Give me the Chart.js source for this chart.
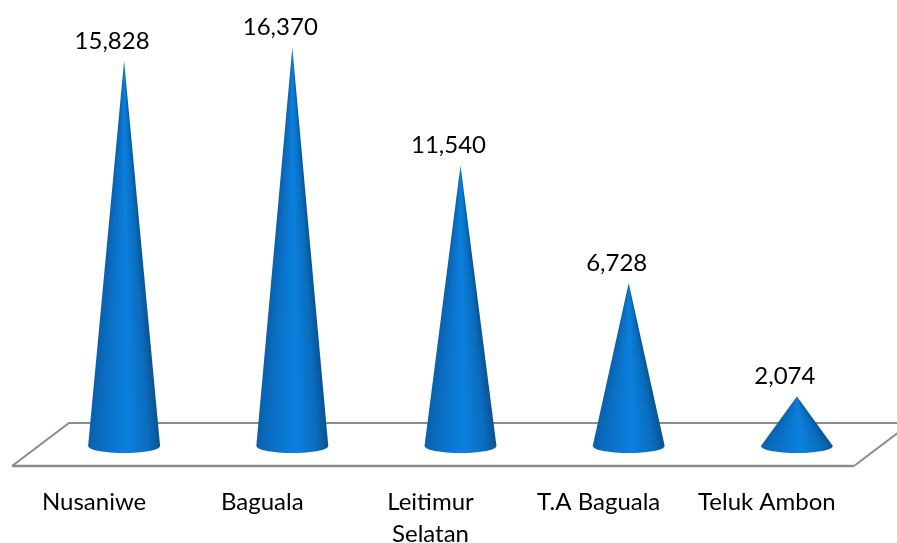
<!DOCTYPE html>
<html>
<head>
<meta charset="utf-8">
<title>Cone chart</title>
<script src="https://cdn.jsdelivr.net/npm/chart.js@4"></script>
<style>
  html, body { margin: 0; padding: 0; background: #fff; }
  canvas { display: block; }
</style>
</head>
<body>
<canvas id="chart" width="897" height="543"></canvas>
<script>
const districts = ['Nusaniwe', 'Baguala', ['Leitimur', 'Selatan'], 'T.A Baguala', 'Teluk Ambon'];
const values = [15828, 16370, 11540, 6728, 2074];

const FONT = 'Lato, "Open Sans", sans-serif';

// floor under the cones, placed relative to the plot area
const floorPlugin = {
  id: 'floor',
  beforeDatasetsDraw(chart) {
    const { ctx, chartArea: a } = chart;
    const front = a.bottom + 19;
    const back = a.bottom - 24;
    ctx.save();
    ctx.strokeStyle = '#8c8c8c';
    ctx.lineWidth = 2;
    ctx.beginPath();
    ctx.moveTo(a.left - 28, front);
    ctx.lineTo(a.left + 29, back);
    ctx.lineTo(a.right + 30, back);
    ctx.lineTo(a.right - 27, front);
    ctx.stroke();
    ctx.lineWidth = 2.5;
    ctx.beginPath();
    ctx.moveTo(a.left - 28, front);
    ctx.lineTo(a.right - 27, front);
    ctx.stroke();
    ctx.restore();
  },
};

// turns each bar element into a cone and writes its value above the tip
const conePlugin = {
  id: 'cones',
  afterDatasetsDraw(chart) {
    const { ctx } = chart;
    const meta = chart.getDatasetMeta(0);
    meta.data.forEach((bar, i) => {
      const r = bar.width / 2;
      const ry = 7;
      const cy = bar.base - 1;
      ctx.save();
      ctx.beginPath();
      ctx.moveTo(bar.x, bar.y);
      ctx.lineTo(bar.x - r, cy);
      ctx.ellipse(bar.x, cy, r, ry, 0, Math.PI, 0, true);
      ctx.closePath();
      ctx.clip();
      // one gradient per pixel row so the shading narrows towards the tip
      for (let y = Math.floor(bar.y); y < cy + ry + 1; y++) {
        const w = Math.max(0.5, r * Math.min(1, (y + 0.5 - bar.y) / (cy - bar.y)));
        const g = ctx.createLinearGradient(bar.x - w, 0, bar.x + w, 0);
        g.addColorStop(0, '#0a60ac');
        g.addColorStop(0.2, '#0a6fc4');
        g.addColorStop(0.55, '#0b80de');
        g.addColorStop(0.85, '#0a6cbc');
        g.addColorStop(1, '#0a528f');
        ctx.fillStyle = g;
        ctx.fillRect(bar.x - w - 1, y, 2 * w + 2, 1);
      }
      ctx.restore();

      ctx.save();
      ctx.fillStyle = '#000';
      ctx.font = `24px ${FONT}`;
      ctx.textAlign = 'center';
      ctx.textBaseline = 'middle';
      ctx.fillText(values[i].toLocaleString('en-US'), bar.x - 12, bar.y - 20);
      ctx.restore();
    });
  },
};

new Chart(document.getElementById('chart'), {
  type: 'bar',
  data: {
    labels: districts,
    datasets: [{
      data: values,
      backgroundColor: 'rgba(0,0,0,0)',
      barPercentage: 0.428,
      categoryPercentage: 1,
    }],
  },
  options: {
    responsive: false,
    animation: false,
    layout: { padding: { left: 40, right: 16, top: 8, bottom: 0 } },
    plugins: { legend: { display: false }, tooltip: { enabled: false } },
    scales: {
      x: {
        grid: { display: false },
        border: { display: false },
        afterFit: (s) => {
          s.height = 96;
          // long tick labels must not squeeze the plot area
          s.paddingLeft = 0;
          s.paddingRight = 0;
        },
        ticks: {
          color: '#000',
          font: { family: FONT, size: 24, lineHeight: 1.33 },
          padding: 31,
          labelOffset: -30,
          maxRotation: 0,
          autoSkip: false,
        },
      },
      y: { display: false, min: 0, max: 18000 },
    },
  },
  plugins: [floorPlugin, conePlugin],
});
</script>
</body>
</html>
